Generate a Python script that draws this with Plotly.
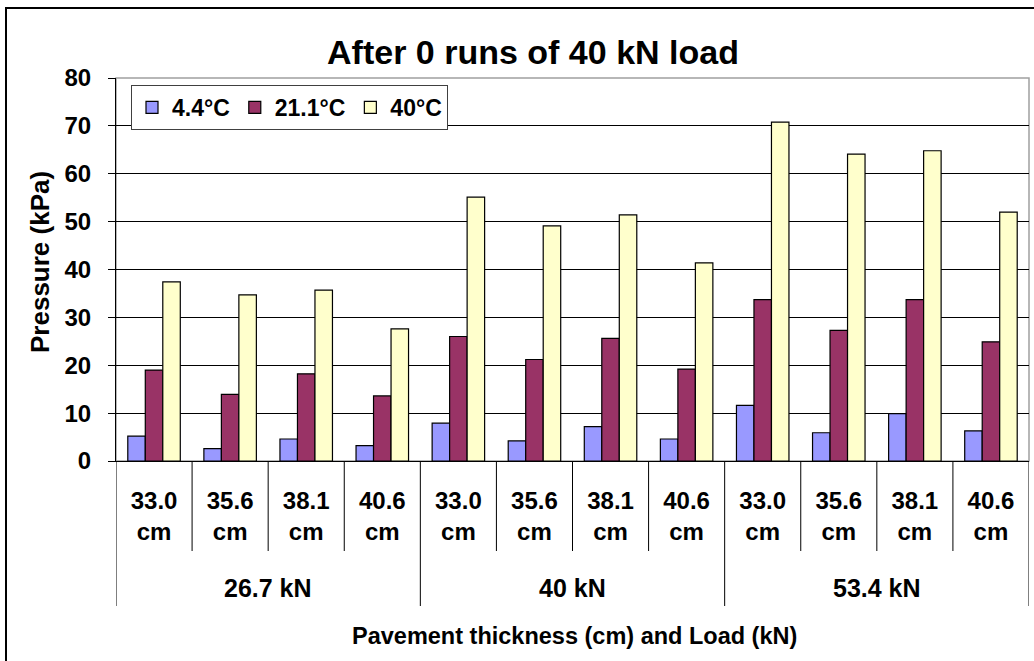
import plotly.graph_objects as go

# Pavement thickness / load combinations (inner and outer category labels)
thickness_labels = ["33.0", "35.6", "38.1", "40.6"] * 3
load_labels = ["26.7 kN", "40 kN", "53.4 kN"]

# Pressure (kPa) after 0 runs of 40 kN load, by temperature
series_names = ["4.4°C", "21.1°C", "40°C"]
p_4_4 = [5.2, 2.6, 4.6, 3.2, 7.9, 4.2, 7.2, 4.6, 11.6, 5.9, 9.9, 6.3]
p_21_1 = [19.0, 13.9, 18.2, 13.6, 26.0, 21.2, 25.6, 19.2, 33.7, 27.3, 33.7, 24.9]
p_40 = [37.4, 34.7, 35.7, 27.6, 55.1, 49.1, 51.4, 41.4, 70.8, 64.1, 64.8, 52.0]

colors = ["#9999FF", "#993366", "#FFFFCC"]
FONT = "Liberation Sans"

x_pos = list(range(len(thickness_labels)))
tick_text = [f"{t}<br>cm" for t in thickness_labels]

fig = go.Figure()
for name, vals, col in zip(series_names, [p_4_4, p_21_1, p_40], colors):
    fig.add_trace(go.Bar(
        x=x_pos, y=vals, name=name,
        marker=dict(color=col, line=dict(color="#000000", width=1.2)),
    ))

W, H = 1034, 661
ML, MR, MT, MB = 116, 5, 78, 200
PW, PH = W - ML - MR, H - MT - MB


def py(pix_y):
    """Convert a page y pixel to paper coordinates."""
    return (MT + PH - pix_y) / PH


def px(pix_x):
    """Convert a page x pixel to paper coordinates."""
    return (pix_x - ML) / PW


shapes = []
# outer chart frame (extends past the page on right and bottom)
shapes.append(dict(type="rect", xref="paper", yref="paper",
                   x0=px(6), x1=px(1045), y0=py(675), y1=py(8),
                   line=dict(color="#000000", width=2), layer="below"))
# plot area border
shapes.append(dict(type="rect", xref="paper", yref="paper",
                   x0=0, x1=1, y0=0, y1=1,
                   line=dict(color="#A0A0A0", width=1.5), layer="below"))
# dividers between thickness categories
n = len(thickness_labels)
group_size = 4
for i in range(n + 1):
    outer = (i % group_size == 0)
    shapes.append(dict(type="line", xref="x", yref="paper",
                       x0=i - 0.5, x1=i - 0.5, y0=0,
                       y1=py(606) if outer else py(551),
                       line=dict(color="#000000", width=1)))

annotations = []
for g, lab in enumerate(load_labels):
    annotations.append(dict(text=lab, xref="x", yref="paper",
                            x=g * group_size + (group_size - 1) / 2, y=py(588),
                            showarrow=False, xanchor="center", yanchor="middle",
                            font=dict(family=FONT, size=25, color="#000000", weight="bold")))
annotations.append(dict(text="Pavement thickness (cm) and Load (kN)",
                        xref="paper", yref="paper", x=px(574), y=py(636),
                        showarrow=False, xanchor="center", yanchor="middle",
                        font=dict(family=FONT, size=23.5, color="#000000", weight="bold")))
annotations.append(dict(text="Pressure (kPa)", xref="paper", yref="paper",
                        x=px(40), y=py(262), textangle=-90,
                        showarrow=False, xanchor="center", yanchor="middle",
                        font=dict(family=FONT, size=26, color="#000000", weight="bold")))

fig.update_layout(
    width=W, height=H,
    margin=dict(l=ML, r=MR, t=MT, b=MB, pad=0),
    paper_bgcolor="#FFFFFF", plot_bgcolor="#FFFFFF",
    barmode="group", bargap=0.31, bargroupgap=0,
    title=dict(text="After 0 runs of 40 kN load", x=533 / W, xref="container",
               xanchor="center", y=1 - 52 / H, yanchor="middle",
               font=dict(family=FONT, size=34, color="#000000", weight="bold")),
    legend=dict(orientation="h", x=px(131), y=py(85), xanchor="left", yanchor="top",
                bgcolor="#FFFFFF", bordercolor="#404040", borderwidth=1,
                font=dict(family=FONT, size=23, color="#000000", weight="bold"),
                traceorder="normal"),
    xaxis=dict(tickmode="array", tickvals=x_pos, ticktext=tick_text,
               range=[-0.5, n - 0.5], showgrid=False, zeroline=False,
               showline=True, linecolor="#000000", linewidth=1, ticks="",
               ticklabelstandoff=18,
               tickfont=dict(family=FONT, size=24, color="#000000", weight="bold")),
    yaxis=dict(range=[0, 80], dtick=10, showgrid=True, gridcolor="#000000", gridwidth=1,
               zeroline=False, showline=True, linecolor="#000000", linewidth=1,
               ticks="outside", ticklen=7, tickcolor="#000000",
               ticklabelstandoff=12,
               tickfont=dict(family=FONT, size=24, color="#000000", weight="bold")),
    shapes=shapes, annotations=annotations,
    showlegend=True,
)

fig.write_html("out.html")
